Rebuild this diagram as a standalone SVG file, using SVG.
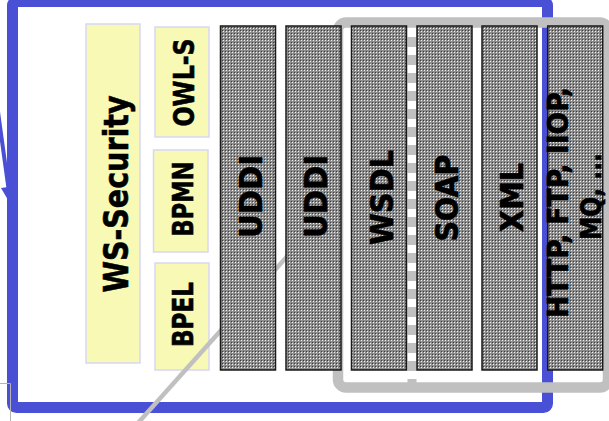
<svg xmlns="http://www.w3.org/2000/svg" width="609" height="421" viewBox="0 0 609 421">
<style>
.yb{fill:#f9f9b6;stroke:#d6d6f6;stroke-width:1.5}
.col{fill:url(#dots);stroke:#1a1a1a;stroke-width:1.5}
.t{font-family:"DejaVu Sans","Verdana",sans-serif;font-weight:bold;fill:#000;stroke:#000;stroke-width:0.6;text-anchor:middle}
.ty{font-size:27.5px}
.tc{font-size:32px}
</style>
<defs>
<pattern id="dots" width="3" height="3" patternUnits="userSpaceOnUse">
<rect width="3" height="3" fill="#8c8c8c"/>
<rect x="1" y="1" width="1" height="1" fill="#f2f2f2"/>
<rect x="0" y="0" width="1" height="1" fill="#3c3c3c"/>
</pattern>
</defs>
<rect width="609" height="421" fill="#fff"/>
<g id="connectors-back">
<line x1="-2" y1="112" x2="9" y2="192" stroke="#4a50d6" stroke-width="4"/>
<polygon points="11,205 1,188 15,186" fill="#4a50d6"/>
</g>
<g id="frame-blue">
<rect x="12.5" y="1.5" width="535" height="406" rx="4" fill="none" stroke="#4a50d6" stroke-width="11"/>
</g>
<g id="frame-gray">
<rect x="338" y="22.5" width="270" height="365" rx="8" fill="none" stroke="#c0c0c0" stroke-width="10.5"/>
<line x1="412" y1="37" x2="412" y2="384" stroke="#c0c0c0" stroke-width="9" stroke-dasharray="10 8"/>
</g>
<g id="ws-security">
<rect class="yb" x="86" y="24" width="54" height="339"/>
<text class="t" font-size="34" transform="translate(127.5,194) rotate(-90)" textLength="197" lengthAdjust="spacingAndGlyphs">WS-Security</text>
</g>
<g id="owl-s">
<rect class="yb" x="155" y="27" width="54" height="110"/>
<text class="t ty" transform="translate(193.5,82.5) rotate(-90)" textLength="88" lengthAdjust="spacingAndGlyphs">OWL-S</text>
</g>
<g id="bpmn">
<rect class="yb" x="153.5" y="150" width="54.5" height="102"/>
<text class="t ty" transform="translate(193,199) rotate(-90)" textLength="75" lengthAdjust="spacingAndGlyphs">BPMN</text>
</g>
<g id="bpel">
<rect class="yb" x="155" y="263" width="54" height="107"/>
<text class="t ty" transform="translate(193,314.5) rotate(-90)" textLength="65" lengthAdjust="spacingAndGlyphs">BPEL</text>
</g>
<g id="connectors">
<line x1="138" y1="423" x2="300" y2="242" stroke="#c0c0c0" stroke-width="4.5"/>
</g>
<g id="uddi-1">
<rect class="col" x="220.5" y="26" width="55" height="344"/>
<text class="t tc" transform="translate(262,196.5) rotate(-90)" textLength="83" lengthAdjust="spacingAndGlyphs">UDDI</text>
</g>
<g id="uddi-2">
<rect class="col" x="286" y="26" width="55" height="344"/>
<text class="t tc" transform="translate(327,196.5) rotate(-90)" textLength="83" lengthAdjust="spacingAndGlyphs">UDDI</text>
</g>
<g id="wsdl">
<rect class="col" x="351.5" y="26" width="55" height="344"/>
<text class="t tc" transform="translate(392.5,197.5) rotate(-90)" textLength="95" lengthAdjust="spacingAndGlyphs">WSDL</text>
</g>
<g id="soap">
<rect class="col" x="417" y="26" width="55" height="344"/>
<text class="t tc" transform="translate(458,198) rotate(-90)" textLength="87" lengthAdjust="spacingAndGlyphs">SOAP</text>
</g>
<g id="xml">
<rect class="col" x="482" y="26" width="55" height="344"/>
<text class="t tc" transform="translate(523,197.5) rotate(-90)" textLength="69" lengthAdjust="spacingAndGlyphs">XML</text>
</g>
<g id="http">
<rect class="col" x="547.7" y="26" width="55" height="344"/>
<text class="t ty" transform="translate(568,202.5) rotate(-90)" textLength="231" lengthAdjust="spacingAndGlyphs">HTTP, FTP, IIOP,</text>
<text class="t ty" transform="translate(601,196.5) rotate(-90)" textLength="87" lengthAdjust="spacingAndGlyphs">MQ, ...</text>
</g>
<g id="corner-mark">
<polyline points="0,383.5 10.5,383.5 10.5,421" fill="none" stroke="#b4b4b4" stroke-width="1"/>
</g>
</svg>
